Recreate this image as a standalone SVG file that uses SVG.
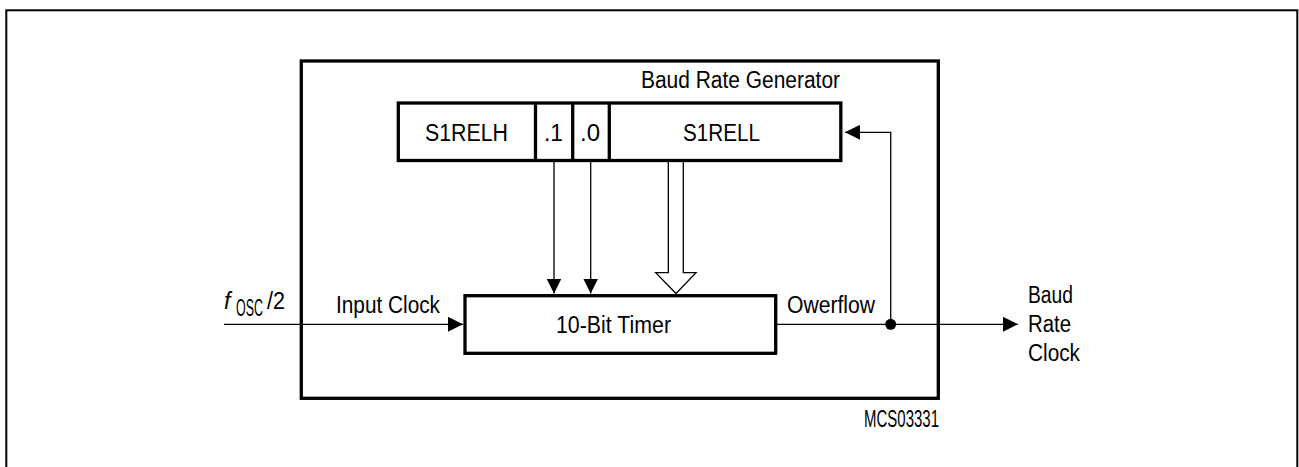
<svg xmlns="http://www.w3.org/2000/svg" width="1299" height="467" viewBox="0 0 1299 467">
<style>
.box{fill:#fff;stroke:#000;stroke-width:3.3}
.ln{fill:none;stroke:#000;stroke-width:1.3}
.t{font-family:"Liberation Sans",Arial,sans-serif;font-size:23px;fill:#000}
</style>
<defs>
<marker id="ah" viewBox="0 0 15 15" refX="15" refY="7.5" markerWidth="15" markerHeight="15" markerUnits="userSpaceOnUse" orient="auto">
<path d="M0,0 L15,7.5 L0,15 Z" fill="#000"/>
</marker>
</defs>
<rect x="6.3" y="10.3" width="1291" height="470" fill="#fff" stroke="#000" stroke-width="2"/>
<g id="generator">
<rect class="box" x="301.3" y="61" width="637" height="337.3"/>
<text class="t" x="641" y="88" textLength="199" lengthAdjust="spacingAndGlyphs">Baud Rate Generator</text>
</g>
<g id="register">
<rect class="box" x="398.3" y="103" width="442.5" height="57.5"/>
<line class="box" x1="535.5" y1="103" x2="535.5" y2="160.5"/>
<line class="box" x1="572.7" y1="103" x2="572.7" y2="160.5"/>
<line class="box" x1="609.3" y1="103" x2="609.3" y2="160.5"/>
<text class="t" x="425" y="141" textLength="83" lengthAdjust="spacingAndGlyphs">S1RELH</text>
<text class="t" x="544" y="141" textLength="19" lengthAdjust="spacingAndGlyphs">.1</text>
<text class="t" x="580" y="141" textLength="20" lengthAdjust="spacingAndGlyphs">.0</text>
<text class="t" x="683" y="141" textLength="77" lengthAdjust="spacingAndGlyphs">S1RELL</text>
</g>
<g id="timer">
<rect class="box" x="465" y="295.7" width="310.7" height="57.6"/>
<text class="t" x="556" y="333.3" textLength="115" lengthAdjust="spacingAndGlyphs">10-Bit Timer</text>
</g>
<g id="connectors">
<line class="ln" x1="224" y1="324.3" x2="463" y2="324.3" marker-end="url(#ah)"/>
<line class="ln" x1="554" y1="162" x2="554" y2="293.5" marker-end="url(#ah)"/>
<line class="ln" x1="590.7" y1="162" x2="590.7" y2="293.5" marker-end="url(#ah)"/>
<path class="ln" d="M668.3,162 V272.7 H655.7 L676,293.5 L696,272.7 H683.3 V162" fill="#fff"/>
<line class="ln" x1="777" y1="324.3" x2="1018" y2="324.3" marker-end="url(#ah)"/>
<polyline class="ln" points="890.7,324.3 890.7,132.3 845,132.3" marker-end="url(#ah)"/>
<circle cx="890.7" cy="324.3" r="5.5" fill="#000"/>
</g>
<g id="labels">
<text class="t" x="224" y="309" font-style="italic">f</text>
<text class="t" x="236" y="316" font-size="17" textLength="27" lengthAdjust="spacingAndGlyphs">OSC</text>
<text class="t" x="267" y="309" textLength="18" lengthAdjust="spacingAndGlyphs">/2</text>
<text class="t" x="336" y="313.3" textLength="104" lengthAdjust="spacingAndGlyphs">Input Clock</text>
<text class="t" x="787" y="313.3" textLength="88" lengthAdjust="spacingAndGlyphs">Owerflow</text>
<text class="t" x="1028" y="303" textLength="45" lengthAdjust="spacingAndGlyphs">Baud</text>
<text class="t" x="1028" y="331.5" textLength="43" lengthAdjust="spacingAndGlyphs">Rate</text>
<text class="t" x="1028" y="360.5" textLength="52" lengthAdjust="spacingAndGlyphs">Clock</text>
<text class="t" x="864" y="426.7" font-size="18" textLength="75" lengthAdjust="spacingAndGlyphs">MCS03331</text>
</g>
</svg>
